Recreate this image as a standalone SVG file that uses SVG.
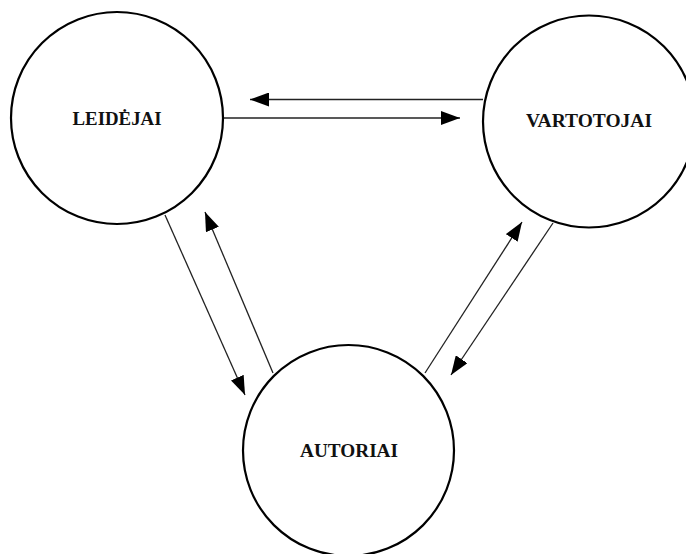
<svg xmlns="http://www.w3.org/2000/svg" width="686" height="554" viewBox="0 0 686 554">
<defs>
<marker id="arr" markerUnits="userSpaceOnUse" markerWidth="20" markerHeight="14" viewBox="0 0 20 14" refX="19" refY="7" orient="auto">
<path d="M0,0 L19,7 L0,14 Z" fill="#000"/>
</marker>
</defs>
<style>
.node circle{fill:#fff;stroke:#000;stroke-width:2.2}
.node text{font-family:"Liberation Serif","Times New Roman",serif;font-weight:bold;font-size:18px;text-anchor:middle;fill:#111}
.edge{stroke:#222;stroke-width:1.3;fill:none;marker-end:url(#arr)}
</style>
<rect width="686" height="554" fill="#fff"/>
<g id="connectors">
<line class="edge" x1="223" y1="118" x2="460" y2="118"/>
<line class="edge" x1="483" y1="99.5" x2="250" y2="99.5"/>
<line class="edge" x1="165" y1="215" x2="245" y2="395"/>
<line class="edge" x1="273" y1="373" x2="205" y2="212"/>
<line class="edge" x1="425" y1="373" x2="522" y2="222"/>
<line class="edge" x1="553" y1="223" x2="451" y2="375"/>
</g>
<g id="leidejai" class="node">
<circle cx="117" cy="118" r="106"/>
<text x="117" y="125" textLength="89" lengthAdjust="spacingAndGlyphs">LEIDĖJAI</text>
</g>
<g id="vartotojai" class="node">
<circle cx="589" cy="121.5" r="106"/>
<text x="589" y="127" textLength="126" lengthAdjust="spacingAndGlyphs">VARTOTOJAI</text>
</g>
<g id="autoriai" class="node">
<circle cx="348.5" cy="450.5" r="105.5"/>
<text x="349" y="457" textLength="98" lengthAdjust="spacingAndGlyphs">AUTORIAI</text>
</g>
</svg>
